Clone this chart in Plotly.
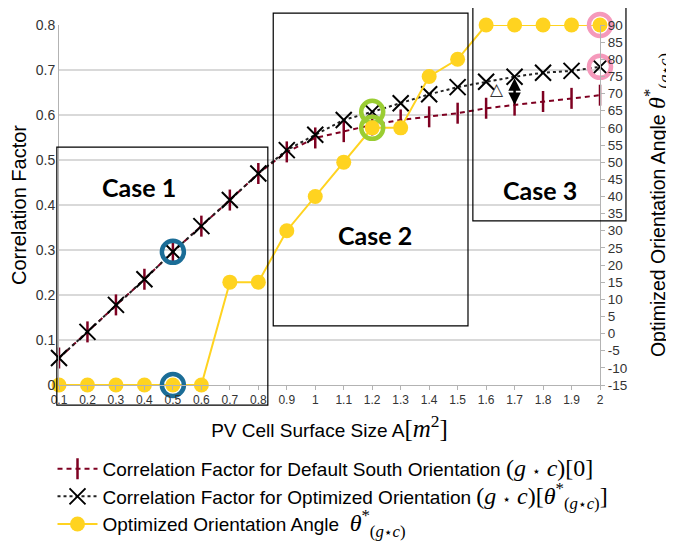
import plotly.graph_objects as go

# ---------------- data ----------------
area = [0.1, 0.2, 0.3, 0.4, 0.5, 0.6, 0.7, 0.8, 0.9, 1.0,
        1.1, 1.2, 1.3, 1.4, 1.5, 1.6, 1.7, 1.8, 1.9, 2.0]
area_labels = ["0.1", "0.2", "0.3", "0.4", "0.5", "0.6", "0.7", "0.8", "0.9", "1",
               "1.1", "1.2", "1.3", "1.4", "1.5", "1.6", "1.7", "1.8", "1.9", "2"]
corr_default = [0.060, 0.118, 0.178, 0.235, 0.296, 0.353, 0.411, 0.470, 0.518, 0.549,
                0.563, 0.578, 0.589, 0.596, 0.604, 0.615, 0.622, 0.630, 0.637, 0.644]
corr_optimized = [0.060, 0.118, 0.178, 0.235, 0.296, 0.353, 0.411, 0.470, 0.522, 0.556,
                  0.589, 0.607, 0.626, 0.646, 0.662, 0.674, 0.685, 0.694, 0.698, 0.707]
opt_angle = [-15, -15, -15, -15, -15, -15, 15, 15, 30, 40,
             50, 60, 60, 75, 80, 90, 90, 90, 90, 90]
left_ticks = [0, 0.1, 0.2, 0.3, 0.4, 0.5, 0.6, 0.7, 0.8]
left_labels = ["0", "0.1", "0.2", "0.3", "0.4", "0.5", "0.6", "0.7", "0.8"]
right_ticks = list(range(-15, 95, 5))
right_labels = [str(v) for v in right_ticks]

# highlighted points (index into the arrays)
blue_idx = 4      # area 0.5
green_idx = 11    # area 1.2
pink_idx = 19     # area 2.0
arrow_idx = 16    # area 1.7

RED = "#7e0021"
YEL = "#ffd320"
BLUE = "#1b6d97"
GREEN = "#9acd32"
PINK = "#f599bb"

SERIF = "Liberation Serif"
STAR = "<span style='font-family:DejaVu Sans;font-size:14px'>⋆</span>"
theta_html = (f"<span style='font-family:{SERIF};font-size:24px'><i>θ</i>"
              f"<sup>*</sup><sub>(<i>g</i>{STAR}<i>c</i>)</sub></span>")
gc_html = f"<span style='font-family:{SERIF};font-size:24px'>(<i>g</i> {STAR} <i>c</i>)"

fig = go.Figure()

fig.add_trace(go.Scatter(
    x=area, y=corr_default, mode="lines+markers",
    name="Correlation Factor for Default South Orientation " + gc_html + "[0]</span>",
    line=dict(color=RED, width=2, dash="5px,4px"),
    marker=dict(symbol="line-ns", size=15, line=dict(color=RED, width=2.5)),
    cliponaxis=False,
))
fig.add_trace(go.Scatter(
    x=area, y=corr_optimized, mode="lines+markers",
    name="Correlation Factor for Optimized Orientation " + gc_html +
         f"[<i>θ</i><sup>*</sup><sub>(<i>g</i>{STAR}<i>c</i>)</sub>]</span>",
    line=dict(color="#222222", width=2, dash="dot"),
    marker=dict(symbol="x-thin", size=16, line=dict(color="black", width=2)),
    cliponaxis=False,
))
fig.add_trace(go.Scatter(
    x=area, y=opt_angle, mode="lines+markers", yaxis="y2",
    name="Optimized Orientation Angle  " + theta_html,
    line=dict(color=YEL, width=2),
    marker=dict(symbol="circle", size=15, color=YEL),
    cliponaxis=False,
))

# highlight circles
def ring(xv, yv, color, axis="y"):
    fig.add_trace(go.Scatter(
        x=[xv], y=[yv], mode="markers", yaxis=axis, showlegend=False,
        marker=dict(symbol="circle-open", size=22, color=color,
                    line=dict(color=color, width=4.5)),
        cliponaxis=False, hoverinfo="skip",
    ))

ring(area[blue_idx], corr_optimized[blue_idx], BLUE)
ring(area[blue_idx], opt_angle[blue_idx], BLUE, "y2")
ring(area[green_idx], corr_optimized[green_idx], GREEN)
ring(area[green_idx], opt_angle[green_idx], GREEN, "y2")
ring(area[pink_idx], corr_optimized[pink_idx], PINK)
ring(area[pink_idx], opt_angle[pink_idx], PINK, "y2")

# case boxes (paper coords relative to the plot area)
boxes = [(-0.004, -0.056, 0.386, 0.661),
         (0.396, 0.164, 0.756, 1.033),
         (0.765, 0.456, 1.048, 1.056)]
for x0, y0, x1, y1 in boxes:
    fig.add_shape(type="rect", xref="paper", yref="paper",
                  x0=x0, y0=y0, x1=x1, y1=y1,
                  line=dict(color="black", width=1.2), layer="above")

case_labels = [("Case 1", 0.148, 0.55), ("Case 2", 0.584, 0.417), ("Case 3", 0.889, 0.542)]
annotations = []
for txt, xx, yy in case_labels:
    annotations.append(dict(text=f"<b>{txt}</b>", x=xx, y=yy, xref="paper", yref="paper",
                            xanchor="center", yanchor="middle",
                            showarrow=False, font=dict(family="Lato", size=25, color="black")))

# double arrow between the two correlation curves
annotations.append(dict(x=area[arrow_idx], y=corr_default[arrow_idx],
                        ax=area[arrow_idx], ay=corr_optimized[arrow_idx],
                        xref="x", yref="y", axref="x", ayref="y", text="",
                        showarrow=True, arrowhead=2, arrowside="end+start",
                        arrowsize=1, arrowwidth=2.5, arrowcolor="black"))
annotations.append(dict(text="△", x=1.64, y=0.657, xref="x", yref="y", showarrow=False,
                        xanchor="center", yanchor="middle",
                        font=dict(family="DejaVu Sans", size=17, color="#333333")))

fig.update_layout(
    width=666, height=534,
    margin=dict(l=51, r=74, t=17, b=157, autoexpand=False),
    paper_bgcolor="white", plot_bgcolor="white",
    font=dict(family="Liberation Sans", size=12, color="#222222"),
    showlegend=True,
    legend=dict(x=-0.012, y=-0.18, xanchor="left", yanchor="top",
                font=dict(family="Liberation Sans", size=19, color="black"),
                bgcolor="rgba(0,0,0,0)", tracegroupgap=0, itemwidth=40),
    annotations=annotations,
    xaxis=dict(range=[0.1, 2.0], tickmode="array", tickvals=area, ticktext=area_labels,
               automargin=False,
               showgrid=False, zeroline=False, showline=True, linecolor="#b3b3b3",
               linewidth=1, ticks="outside", ticklen=4, tickcolor="#b3b3b3",
               tickfont=dict(size=12, color="#333333"),
               title=dict(text="PV Cell Surface Size A<span style='font-family:Liberation Serif;font-size:25px'>[<i>m</i><sup>2</sup>]</span>",
                          font=dict(family="Liberation Sans", size=19, color="black"),
                          standoff=17)),
    yaxis=dict(range=[0, 0.8], tickmode="array", tickvals=left_ticks, ticktext=left_labels,
               automargin=False,
               showgrid=True, gridcolor="#d9d9d9", gridwidth=2, zeroline=False,
               showline=True, linecolor="#b3b3b3", linewidth=1,
               ticks="", tickfont=dict(size=14, color="#333333"),
               title=dict(text="Correlation Factor",
                          font=dict(family="Liberation Sans", size=20, color="black"),
                          standoff=5)),
    yaxis2=dict(range=[-15, 90], overlaying="y", side="right", tickmode="array",
                automargin=False,
                tickvals=right_ticks, ticktext=right_labels, showgrid=False, zeroline=False,
                showline=True, linecolor="#b3b3b3", linewidth=1,
                ticks="outside", ticklen=4, tickcolor="#b3b3b3",
                tickfont=dict(size=13.5, color="#333333"),
                title=dict(text="Optimized Orientation Angle " + theta_html,
                           font=dict(family="Liberation Sans", size=19.5, color="black"),
                           standoff=26)),
)

fig.write_html("out.html")
